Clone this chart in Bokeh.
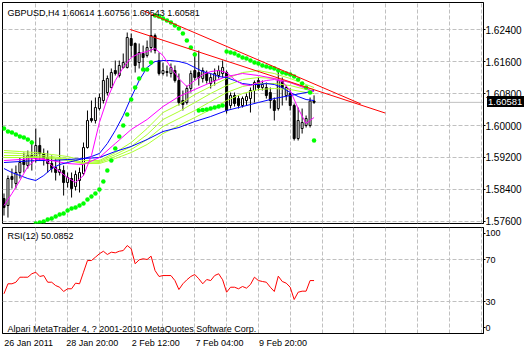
from bokeh.plotting import figure
from bokeh.layouts import column
from bokeh.models import Range1d, FixedTicker, Label, Span, PrintfTickFormatter, Div
from bokeh.embed import file_html
from bokeh.resources import INLINE

symbol_title = "GBPUSD,H4  1.60614 1.60756 1.60543 1.60581"
rsi_title = "RSI(12) 50.0852"
copyright_text = "Alpari MetaTrader 4, ? 2001-2010 MetaQuotes Software Corp."
last_price = 1.60581
last_price_text = "1.60581"

bars = list(range(79))
open_ = [1.58169, 1.57994, 1.58721, 1.58545, 1.58821, 1.59122, 1.58997, 1.59248, 1.59172, 1.59499,
         1.59298, 1.59197, 1.59047, 1.58946, 1.58821, 1.58871, 1.58570, 1.58671, 1.58470, 1.58621,
         1.58796, 1.59448, 1.60176, 1.60125, 1.60426, 1.60627, 1.60828, 1.60953, 1.61379, 1.61254,
         1.61455, 1.61455, 1.62182, 1.62057, 1.61580, 1.61806, 1.61756, 1.61956, 1.62257, 1.61630,
         1.61304, 1.61354, 1.61304, 1.61379, 1.61129, 1.60627, 1.60577, 1.60928, 1.61379, 1.61329,
         1.61179, 1.61329, 1.61053, 1.61129, 1.61254, 1.61304, 1.61329, 1.60502, 1.60752, 1.60677,
         1.60502, 1.60627, 1.60677, 1.60878, 1.61129, 1.60953, 1.60953, 1.60828, 1.60627, 1.60426,
         1.61129, 1.60752, 1.60803, 1.60502, 1.59674, 1.59925, 1.60000, 1.60000, 1.60614]
high = [1.58295, 1.58746, 1.58921, 1.58997, 1.59197, 1.59323, 1.59373, 1.59624, 1.59925, 1.59699,
        1.59423, 1.59373, 1.59248, 1.59172, 1.59674, 1.58997, 1.58821, 1.58821, 1.58871, 1.58946,
        1.59574, 1.60376, 1.60627, 1.60702, 1.60803, 1.61430, 1.61254, 1.61430, 1.61630, 1.61630,
        1.61806, 1.62332, 1.62307, 1.62082, 1.62057, 1.62006, 1.62132, 1.62759, 1.62307, 1.61831,
        1.61580, 1.61505, 1.61555, 1.61505, 1.61304, 1.60878, 1.61003, 1.61379, 1.61831, 1.61881,
        1.61455, 1.61379, 1.61304, 1.61430, 1.61505, 1.61630, 1.61379, 1.60828, 1.60828, 1.60752,
        1.60727, 1.60803, 1.60953, 1.61129, 1.61204, 1.61129, 1.61078, 1.60953, 1.60702, 1.61354,
        1.61204, 1.61003, 1.60928, 1.60552, 1.60451, 1.60426, 1.60251, 1.60702, 1.60756]
low = [1.57743, 1.57692, 1.58420, 1.58420, 1.58671, 1.58821, 1.58921, 1.58871, 1.59072, 1.59122,
       1.58997, 1.58821, 1.58821, 1.58621, 1.58746, 1.58244, 1.58445, 1.58194, 1.58370, 1.58320,
       1.58746, 1.59423, 1.60075, 1.60050, 1.60376, 1.60552, 1.60752, 1.60928, 1.61254, 1.61204,
       1.61430, 1.61430, 1.61706, 1.61329, 1.61430, 1.61430, 1.61706, 1.61831, 1.61806, 1.61254,
       1.61254, 1.61229, 1.61204, 1.61078, 1.60502, 1.60376, 1.60527, 1.60828, 1.61129, 1.61003,
       1.61078, 1.61053, 1.60928, 1.61003, 1.61179, 1.61204, 1.60301, 1.60426, 1.60476, 1.60426,
       1.60451, 1.60502, 1.60326, 1.60577, 1.60878, 1.60878, 1.60677, 1.60426, 1.60125, 1.60376,
       1.60502, 1.60627, 1.60376, 1.59624, 1.59624, 1.59799, 1.59950, 1.59950, 1.60543]
close = [1.57943, 1.58671, 1.58646, 1.58821, 1.59072, 1.59022, 1.59248, 1.59197, 1.59499, 1.59298,
         1.59172, 1.59047, 1.58921, 1.58821, 1.58896, 1.58570, 1.58696, 1.58420, 1.58771, 1.58821,
         1.59448, 1.60125, 1.60125, 1.60451, 1.60702, 1.61129, 1.61179, 1.61329, 1.61304, 1.61505,
         1.61580, 1.62207, 1.62006, 1.61505, 1.61831, 1.61706, 1.61956, 1.62257, 1.61881, 1.61304,
         1.61379, 1.61329, 1.61455, 1.61129, 1.60577, 1.60527, 1.60928, 1.61304, 1.61204, 1.61204,
         1.61379, 1.61129, 1.61204, 1.61304, 1.61379, 1.61455, 1.60376, 1.60752, 1.60552, 1.60502,
         1.60677, 1.60727, 1.60878, 1.61078, 1.60953, 1.61028, 1.60752, 1.60627, 1.60376, 1.61129,
         1.60953, 1.60953, 1.60502, 1.59674, 1.60125, 1.60075, 1.60176, 1.60614, 1.60581]

sar = [1.59925, 1.59850, 1.59825, 1.59774, 1.59724, 1.59699, 1.59649, 1.59574,
       1.57540, 1.57567, 1.57592, 1.57642, 1.57667, 1.57717, 1.57768, 1.57793,
       1.57868, 1.57918, 1.57943, 1.57994, 1.58044, 1.58144, 1.58219, 1.58295,
       1.58395, 1.58596, 1.58871, 1.59122, 1.59423, 1.59724, 1.60000, 1.60276,
       1.60652, 1.60953, 1.61179, 1.61405, 1.61405, 1.61580,
       1.62759, 1.62734, 1.62684, 1.62633, 1.62583, 1.62508, 1.62433, 1.62307, 1.62132, 1.61956, 1.61781,
       1.60376, 1.60389, 1.60401, 1.60426, 1.60451, 1.60476, 1.60502,
       1.61856, 1.61831, 1.61806, 1.61756, 1.61706, 1.61680, 1.61630, 1.61580, 1.61555, 1.61505, 1.61480,
       1.61455, 1.61430, 1.61379, 1.61329, 1.61304, 1.61279, 1.61229, 1.61154, 1.61053, 1.60953, 1.60828,
       1.59624]

rsi = [37.4, 47.0, 47.0, 48.5, 53.3, 53.3, 53.3, 56.6, 58.1, 54.0,
       54.9, 48.5, 48.5, 45.3, 43.7, 39.6, 42.2, 42.2, 47.6, 47.0,
       58.1, 69.3, 69.3, 72.5, 75.8, 78.2, 75.1, 77.3, 76.7, 78.2,
       78.9, 83.7, 80.6, 66.2, 70.0, 71.0, 70.3, 73.5, 59.7, 54.0,
       54.9, 54.9, 54.9, 50.1, 41.5, 47.0, 50.8, 54.0, 55.9, 51.8,
       47.0, 51.1, 50.1, 54.9, 56.6, 50.8, 38.9, 43.7, 43.7, 42.2,
       44.4, 42.8, 46.3, 53.3, 50.1, 49.2, 48.5, 43.7, 39.6, 54.3,
       49.2, 47.6, 43.7, 31.9, 38.9, 39.9, 39.9, 50.1, 50.09]

every2 = list(range(0, 79, 2))
every4 = list(range(0, 77, 4)) + [78]

ma_blue_fast = [1.58921, 1.58821, 1.58746, 1.58671, 1.58621, 1.58746, 1.58921, 1.59022, 1.59072, 1.59122,
                1.59172, 1.59223, 1.59298, 1.59549, 1.59875, 1.60251, 1.60702, 1.61129, 1.61455, 1.61605,
                1.61630, 1.61630, 1.61605, 1.61555, 1.61455, 1.61354, 1.61304, 1.61229, 1.61204, 1.61129,
                1.61053, 1.61028, 1.61028, 1.61053, 1.61028, 1.60953, 1.60828, 1.60727, 1.60652, 1.60627]
ma_blue_slow = [1.59072, 1.59097, 1.59122, 1.59122, 1.59147, 1.59172, 1.59197, 1.59348, 1.59474, 1.59649,
                1.59850, 1.59950, 1.60101, 1.60226, 1.60376, 1.60476, 1.60577, 1.60677, 1.60752, 1.60828,
                1.60878]
ma_magenta_fast = [1.57994, 1.58295, 1.58621, 1.58972, 1.59147, 1.59172, 1.58997, 1.58846, 1.58696, 1.58570,
                   1.58746, 1.59248, 1.60075, 1.60677, 1.61129, 1.61455, 1.61706, 1.61806, 1.61856, 1.61931,
                   1.61756, 1.61455, 1.61179, 1.60978, 1.61129, 1.61279, 1.61354, 1.61379, 1.61329, 1.61154,
                   1.61028, 1.61003, 1.61078, 1.61129, 1.61154, 1.61104, 1.60878, 1.60426, 1.60050, 1.60201]
ma_magenta_slow = [1.59122, 1.59147, 1.59172, 1.59122, 1.59047, 1.59022, 1.59197, 1.59549, 1.59900, 1.60151,
                   1.60476, 1.60727, 1.60903, 1.61078, 1.61229, 1.61304, 1.61254, 1.61179, 1.61078, 1.60928,
                   1.60853]
ribbon_1 = [1.59373, 1.59348, 1.59323, 1.59273, 1.59223, 1.59122, 1.59122, 1.59323, 1.59574, 1.59925,
            1.60326, 1.60527, 1.60777, 1.60978, 1.61179, 1.61329, 1.61379, 1.61304, 1.61179, 1.61028,
            1.60953]
ribbon_2 = [1.59323, 1.59298, 1.59273, 1.59223, 1.59172, 1.59072, 1.59097, 1.59273, 1.59474, 1.59774,
            1.60151, 1.60351, 1.60577, 1.60803, 1.61003, 1.61154, 1.61204, 1.61179, 1.61078, 1.60953,
            1.60903]
ribbon_3 = [1.59248, 1.59248, 1.59223, 1.59197, 1.59147, 1.59047, 1.59072, 1.59223, 1.59398, 1.59649,
            1.59975, 1.60176, 1.60376, 1.60602, 1.60828, 1.60978, 1.61053, 1.61053, 1.61003, 1.60903,
            1.60853]
ribbon_4 = [1.59197, 1.59197, 1.59197, 1.59172, 1.59122, 1.59047, 1.59047, 1.59172, 1.59323, 1.59524,
            1.59799, 1.60000, 1.60201, 1.60401, 1.60627, 1.60803, 1.60903, 1.60928, 1.60903, 1.60828,
            1.60803]

trend_a_bars = [35.1, 89.75]
trend_a_prices = [1.62877, 1.60542]
trend_b_bars = [31.75, 95.9]
trend_b_prices = [1.62408, 1.60313]

date_tick_bars = [0, 16, 32, 48, 64]
date_tick_labels = ["26 Jan 2011", "28 Jan 20:00", "2 Feb 12:00", "7 Feb 04:00", "9 Feb 20:00"]
grid_bars = list(range(8, 121, 8))
price_ticks = [1.576, 1.584, 1.592, 1.600, 1.608, 1.616, 1.624]
rsi_levels = [30, 70]
rsi_label_pos = [4.8, 30, 70, 95.5]
rsi_label_text = ["0", "30", "70", "100"]

FONT = "Liberation Sans"
GRID = "#c0c0c0"
LABEL_SHIFT = 6.2  # date labels start at their bar (left aligned): centre them half a label to the right

x_rng = Range1d(-0.375, 120.625)

p1 = figure(width=524, height=226, x_range=x_rng, y_range=Range1d(1.57543, 1.63085),
            output_backend="svg", toolbar_location=None, y_axis_location="right",
            x_axis_location=None, min_border_left=2, min_border_top=2,
            min_border_bottom=3, min_border_right=38)
p1.outline_line_color = "black"
p1.outline_line_alpha = 1.0
p1.background_fill_color = "white"
p1.border_fill_color = "white"
p1.xgrid.ticker = FixedTicker(ticks=grid_bars)
p1.yaxis.ticker = FixedTicker(ticks=price_ticks)
p1.yaxis.formatter = PrintfTickFormatter(format="%.5f")
for g in (p1.xgrid, p1.ygrid):
    g.grid_line_color = GRID
    g.grid_line_dash = "4 2"
p1.yaxis.major_tick_out = 2
p1.yaxis.major_tick_in = 0
p1.yaxis.minor_tick_line_color = None
p1.yaxis.major_label_standoff = 0
p1.yaxis.axis_line_color = "black"
p1.yaxis.major_label_text_font = FONT
p1.yaxis.major_label_text_font_size = "10px"
p1.yaxis.major_label_text_color = "black"

p1.add_layout(Span(location=last_price, dimension="width", line_color=GRID, line_width=1, level="underlay"))

p1.segment(x0=bars, y0=low, x1=bars, y1=high, line_color="black", line_width=1)
bull = [i for i in bars if close[i] >= open_[i]]
bear = [i for i in bars if close[i] < open_[i]]
p1.vbar(x=bull, top=[close[i] for i in bull], bottom=[open_[i] for i in bull], width=0.5,
        fill_color="white", line_color="black", line_width=1)
p1.vbar(x=bear, top=[open_[i] for i in bear], bottom=[close[i] for i in bear], width=0.5,
        fill_color="black", line_color="black", line_width=1)

for series in (ribbon_4, ribbon_3, ribbon_2, ribbon_1):
    p1.line(every4, series, line_color="#adff2f", line_width=1)
p1.line(every4, ma_blue_slow, line_color="#0000ff", line_width=1)
p1.line(every4, ma_magenta_slow, line_color="#ff00ff", line_width=1)
p1.line(every2, ma_blue_fast, line_color="#0000ff", line_width=1)
p1.line(every2, ma_magenta_fast, line_color="#ff00ff", line_width=1)
p1.scatter(bars, sar, marker="circle", size=4.5, fill_color="#00ff00", line_color=None)
p1.line(trend_a_bars, trend_a_prices, line_color="#ff0000", line_width=1)
p1.line(trend_b_bars, trend_b_prices, line_color="#ff0000", line_width=1)

p1.add_layout(Label(x=0.9, y=1.62834, text=symbol_title, text_font=FONT, text_font_size="9px",
                    text_baseline="middle", text_color="black"))

p2 = figure(width=524, height=125, x_range=x_rng, y_range=Range1d(-0.7, 101.0),
            output_backend="svg", toolbar_location=None, y_axis_location="right",
            min_border_left=2, min_border_top=1, min_border_bottom=18, min_border_right=38)
p2.outline_line_color = "black"
p2.outline_line_alpha = 1.0
p2.xgrid.ticker = FixedTicker(ticks=grid_bars)
p2.ygrid.ticker = FixedTicker(ticks=rsi_levels)
for g in (p2.xgrid, p2.ygrid):
    g.grid_line_color = GRID
    g.grid_line_dash = "4 2"

label_pos = [b + LABEL_SHIFT for b in date_tick_bars]
p2.xaxis.ticker = FixedTicker(ticks=label_pos)
p2.xaxis.major_label_overrides = dict(zip(label_pos, date_tick_labels))
p2.xaxis.major_tick_line_color = None
p2.xaxis.minor_tick_line_color = None
p2.xaxis.major_tick_out = 0
p2.xaxis.major_tick_in = 0
p2.xaxis.major_label_standoff = 4
p2.xaxis.axis_line_color = "black"

p2.yaxis.ticker = FixedTicker(ticks=rsi_label_pos)
p2.yaxis.major_label_overrides = dict(zip(rsi_label_pos, rsi_label_text))
p2.yaxis.major_tick_out = 2
p2.yaxis.major_tick_in = 0
p2.yaxis.minor_tick_line_color = None
p2.yaxis.major_label_standoff = 0
for ax in (p2.xaxis, p2.yaxis):
    ax.major_label_text_font = FONT
    ax.major_label_text_font_size = "9px"
    ax.major_label_text_color = "black"

p2.line(bars, rsi, line_color="#ff0000", line_width=1)
p2.add_layout(Label(x=0.9, y=92.5, text=rsi_title, text_font=FONT, text_font_size="9px",
                    text_baseline="middle", text_color="black"))
p2.add_layout(Label(x=0.9, y=3.8, text=copyright_text, text_font=FONT, text_font_size="9px",
                    text_baseline="middle", text_color="black"))

price_box = Div(text=last_price_text, width=37, height=11, margin=0,
                styles={"position": "absolute", "left": "487px", "top": "96px",
                        "background-color": "black", "color": "white",
                        "font-family": "Liberation Sans", "font-size": "9.5px",
                        "line-height": "11px", "padding-left": "1px", "white-space": "nowrap"})

layout = column(p1, p2, price_box)
open("out.html", "w").write(file_html(layout, INLINE))
